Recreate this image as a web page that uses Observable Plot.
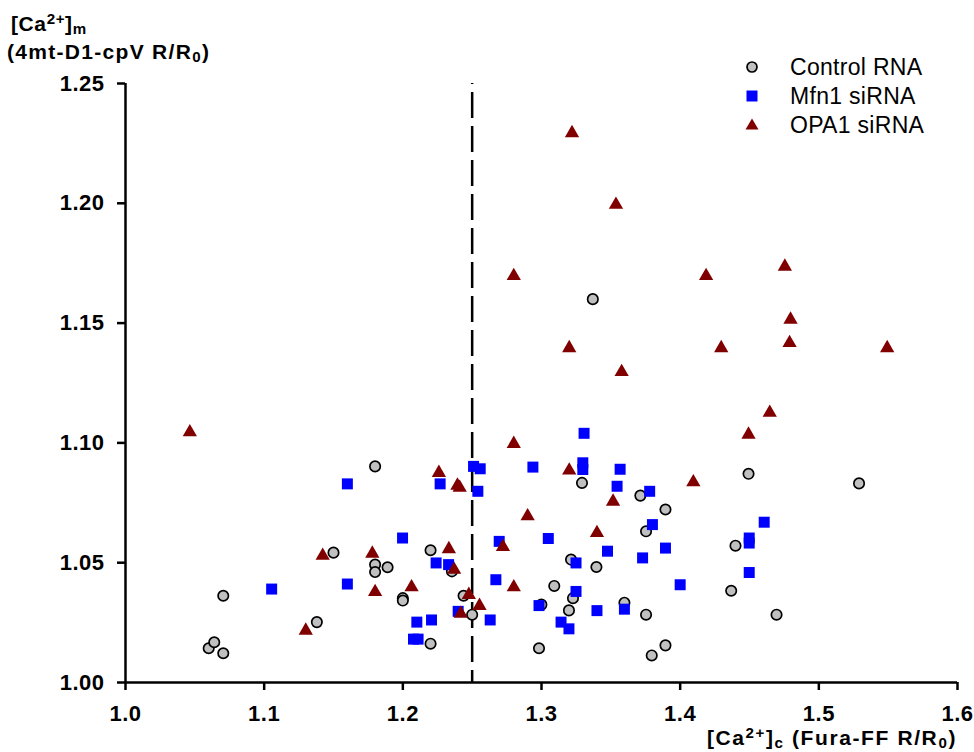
<!DOCTYPE html>
<html><head><meta charset="utf-8">
<script src="https://cdn.jsdelivr.net/npm/d3@7"></script>
<script src="https://cdn.jsdelivr.net/npm/@observablehq/plot@0.6"></script>
<style>
body{margin:0;background:#fff;font-family:"Liberation Sans",Arial,sans-serif;}
#wrap{position:relative;width:974px;height:752px;overflow:hidden;}
.lbl{position:absolute;font-weight:bold;color:#000;white-space:nowrap;line-height:1;}
.lbl sup,.lbl sub{font-size:0.72em;line-height:0;}
.lbl sub{vertical-align:-0.2em;}
.lbl sup{vertical-align:0.45em;}
.leg{position:absolute;left:740px;font-size:23px;letter-spacing:0.3px;color:#000;white-space:nowrap;line-height:1;}
.leg svg{position:absolute;left:0;top:0;}
.leg span{position:absolute;left:50px;}
svg text{font-weight:bold;}
g[aria-label="x-axis tick label"], g[aria-label="y-axis tick label"]{font-size:22px;letter-spacing:0.5px;}
</style></head><body>
<div id="wrap"></div>
<script>
const xTicks = [1.0, 1.1, 1.2, 1.3, 1.4, 1.5, 1.6];
const yTicks = [1.00, 1.05, 1.10, 1.15, 1.20, 1.25];
const thresholdX = [1.25];

const controlX = [1.060,1.064,1.0705,1.0705,1.138,1.150,1.180,1.180,1.180,1.189,1.200,1.200,1.220,1.220,1.2354,1.2438,1.250,1.2982,1.2999,1.3092,1.3198,1.3213,1.3227,1.3292,1.337,1.3396,1.3598,1.3713,1.3754,1.3754,1.3795,1.3894,1.3894,1.4368,1.4399,1.4493,1.4695,1.529];
const controlY = [1.0143,1.0168,1.0122,1.0362,1.0252,1.0542,1.0902,1.0492,1.0461,1.0481,1.0352,1.0342,1.0552,1.0162,1.0464,1.0362,1.0283,1.0143,1.0325,1.0403,1.0301,1.0513,1.0352,1.0833,1.160,1.0482,1.0333,1.0780,1.0631,1.0283,1.0113,1.0722,1.0155,1.0383,1.0571,1.0871,1.0283,1.0831];

const mfn1X = [1.1054,1.160,1.160,1.1998,1.2077,1.211,1.2101,1.2207,1.224,1.2269,1.233,1.2399,1.251,1.2558,1.2541,1.2630,1.2671,1.2695,1.2938,1.2982,1.3049,1.3141,1.3198,1.3249,1.3249,1.3298,1.3298,1.3307,1.340,1.3476,1.3545,1.3567,1.3598,1.3729,1.3780,1.380,1.3894,1.400,1.4498,1.4498,1.4498,1.4606];
const mfn1Y = [1.039,1.0829,1.0411,1.0603,1.0181,1.0181,1.0252,1.0261,1.0499,1.0829,1.0492,1.0297,1.0902,1.0892,1.0798,1.0261,1.0429,1.0589,1.0899,1.0321,1.0601,1.0252,1.0224,1.0499,1.038,1.0917,1.0889,1.104,1.030,1.0548,1.0819,1.0890,1.0306,1.0520,1.0798,1.0659,1.0561,1.0408,1.0603,1.0582,1.0459,1.0669];

const opa1X = [1.0464,1.130,1.1422,1.178,1.180,1.2063,1.226,1.2332,1.237,1.2394,1.2410,1.2418,1.2476,1.2553,1.2722,1.280,1.280,1.280,1.290,1.320,1.320,1.322,1.340,1.3516,1.3537,1.3578,1.4095,1.4187,1.4296,1.4493,1.4646,1.4755,1.4789,1.4796,1.5493];
const opa1Y = [1.1045,1.0217,1.0529,1.0538,1.0378,1.0398,1.0875,1.0557,1.0471,1.0822,1.0813,1.0287,1.0366,1.0320,1.0566,1.0996,1.0398,1.1697,1.0694,1.0885,1.1396,1.2293,1.0624,1.0755,1.1994,1.1296,1.0836,1.1697,1.1396,1.1035,1.1126,1.1736,1.1417,1.1515,1.1396];

const toRows = (xs, ys) => xs.map((x, i) => ({x, y: ys[i]}));
const control = toRows(controlX, controlY);
const mfn1 = toRows(mfn1X, mfn1Y);
const opa1 = toRows(opa1X, opa1Y);

const chart = Plot.plot({
  width: 974,
  height: 752,
  marginLeft: 125,
  marginRight: 17,
  marginTop: 83,
  marginBottom: 70,
  style: {fontFamily: "'Liberation Sans', Arial, sans-serif", fontSize: "21px", color: "#000", background: "#fff"},
  x: {domain: [1.0, 1.6], label: null},
  y: {domain: [1.0, 1.25], label: null},
  marks: [
    Plot.axisX({ticks: xTicks, tickFormat: d3.format(".1f"), tickSize: 8, tickPadding: 15, strokeWidth: 2.5, fontWeight: "bold"}),
    Plot.axisY({ticks: yTicks, tickFormat: d3.format(".2f"), tickSize: 8, tickPadding: 13, strokeWidth: 2.5, fontWeight: "bold"}),
    Plot.ruleX([xTicks[0]], {y1: yTicks[0], y2: yTicks[yTicks.length - 1], stroke: "#000", strokeWidth: 2.5}),
    Plot.ruleY([yTicks[0]], {x1: xTicks[0], x2: xTicks[xTicks.length - 1], stroke: "#000", strokeWidth: 2.5}),
    Plot.ruleX(thresholdX, {y1: yTicks[yTicks.length - 1], y2: yTicks[0], stroke: "#000", strokeWidth: 2.5, strokeDasharray: "26,8", strokeDashoffset: 25}),
    Plot.dot(control, {x: "x", y: "y", r: 5.2, fill: "#c0c0c0", stroke: "#000", strokeWidth: 1.7}),
    Plot.dot(mfn1, {x: "x", y: "y", symbol: "square", r: 6.2, fill: "#0000ff", stroke: "none"}),
    Plot.dot(opa1, {x: "x", y: "y", symbol: "triangle", r: 5.3, fill: "#800000", stroke: "none"})
  ]
});

const wrap = document.getElementById("wrap");
wrap.appendChild(chart);

function addLabel(html, style) {
  const d = document.createElement("div");
  d.className = "lbl";
  d.innerHTML = html;
  Object.assign(d.style, style);
  wrap.appendChild(d);
}
addLabel("[Ca<sup>2+</sup>]<sub>m</sub>", {left: "11px", top: "13px", fontSize: "21px", letterSpacing: "0.6px"});
addLabel("(4mt-D1-cpV R/R<sub>0</sub>)", {left: "7px", top: "41px", fontSize: "21px", letterSpacing: "1.3px"});
addLabel("[Ca<sup>2+</sup>]<sub>c</sub> (Fura-FF R/R<sub>0</sub>)", {right: "17px", top: "727px", fontSize: "21px", letterSpacing: "1.6px"});

const legendItems = [
  {name: "Control RNA", svg: '<circle cx="12" cy="12" r="5" fill="#c0c0c0" stroke="#000" stroke-width="1.7"/>'},
  {name: "Mfn1 siRNA", svg: '<rect x="6.5" y="6.5" width="11" height="11" fill="#0000ff"/>'},
  {name: "OPA1 siRNA", svg: '<path d="M12,5.5 L18.5,16.5 L5.5,16.5 Z" fill="#800000"/>'}
];
const legendTops = [55, 84, 113];
legendItems.forEach((it, i) => {
  const d = document.createElement("div");
  d.className = "leg";
  d.style.top = legendTops[i] + "px";
  d.innerHTML = '<svg width="24" height="24">' + it.svg + '</svg><span style="top:1px">' + it.name + '</span>';
  wrap.appendChild(d);
});
</script>
</body></html>
